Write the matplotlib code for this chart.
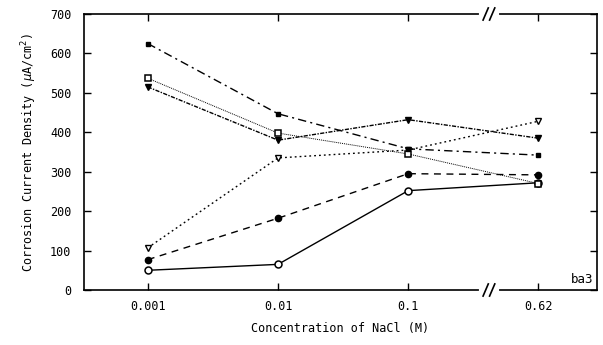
import matplotlib
matplotlib.use("Agg")
import matplotlib.pyplot as plt

# NaCl concentrations (M) shown as evenly spaced categories
conc_labels = ["0.001", "0.01", "0.1", "0.62"]

# corrosion current density, uA/cm^2
open_circle = [50, 65, 252, 272]
filled_circle = [77, 182, 295, 292]
open_tri = [107, 335, 355, 428]
open_square = [537, 398, 345, 270]
filled_tri = [515, 380, 432, 385]
filled_square = [625, 447, 358, 342]

plt.rcParams['font.family'] = ['DejaVu Sans Mono']
plt.rcParams['font.size'] = 8

fig = plt.figure(figsize=(6.03, 3.45), dpi=100)
ax = fig.add_axes([84 / 603, 1 - 290 / 345, 513 / 603, 276 / 345])

x = list(range(len(conc_labels)))
k = dict(color="black", lw=1.0)
ax.plot(x, open_circle, ls="-", marker="o", ms=5, mfc="white", mec="black", mew=1.1, **k)
ax.plot(x, filled_circle, ls=(0, (5, 4)), marker="o", ms=4.5, mfc="black", mec="black", **k)
ax.plot(x, open_tri, ls=(0, (1.3, 2.2)), marker="v", ms=5, mfc="white", mec="black", mew=1.0, **k)
ax.plot(x, open_square, ls=(0, (1, 1)), marker="s", ms=4.5, mfc="white", mec="black", mew=1.1,
        color="black", lw=0.7)
ax.plot(x, filled_tri, ls=(0, (3, 1, 1, 1)), marker="v", ms=4.5, mfc="black", mec="black", **k)
ax.plot(x, filled_square, ls=(0, (6, 3, 1.5, 3)), marker="s", ms=3.5, mfc="black", mec="black", **k)

ax.set_xlim(-0.49, 3.45)
ax.set_ylim(0, 700)
ax.set_xticks(x)
ax.set_xticklabels(conc_labels)
ax.set_yticks(range(0, 701, 100))
ax.tick_params(direction="in", top=True, right=True, length=5, width=1, labelsize=8.5)
ax.tick_params(axis="x", pad=7)
ax.tick_params(axis="y", pad=9)
for s in ax.spines.values():
    s.set_linewidth(1.2)

ax.set_xlabel("Concentration of NaCl (M)", fontsize=8.5, labelpad=7)
ax.set_ylabel(r"Corrosion Current Density ($\mu$A/cm$^2$)", fontsize=8.5, labelpad=8)
ax.text(3.42, 10, "ba3", ha="right", va="bottom", fontsize=9)

# axis break marks between 0.1 and 0.62
xb = 2.62
for yy in (0, 1):
    ax.plot([xb - 0.06, xb + 0.06], [yy, yy], transform=ax.get_xaxis_transform(),
            color="white", lw=3, clip_on=False, zorder=5)
    for dx in (-0.025, 0.025):
        ax.plot([xb + dx - 0.02, xb + dx + 0.02], [yy - 0.022, yy + 0.022],
                transform=ax.get_xaxis_transform(), color="black", lw=1.2,
                clip_on=False, zorder=6)

fig.savefig("out.png", dpi=100)
